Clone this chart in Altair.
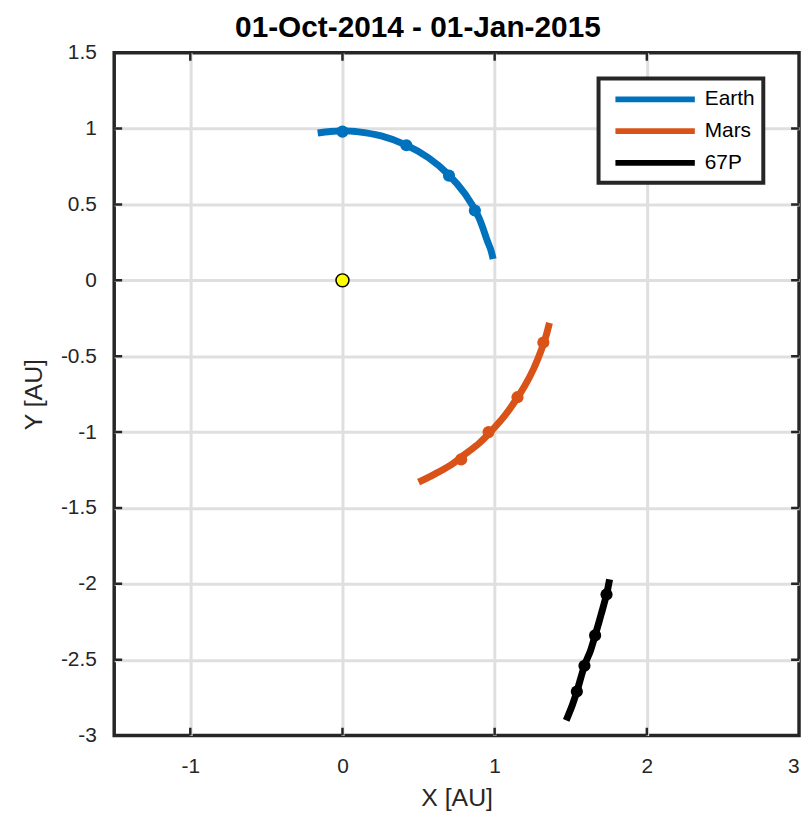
import altair as alt
import pandas as pd

# Earth trajectory (AU)
earth_x = [0.990, 0.975, 0.951, 0.893, 0.807, 0.696, 0.565, 0.416, 0.255, 0.086, 0.000, -0.080, -0.163]
earth_y = [0.140, 0.200, 0.262, 0.420, 0.567, 0.698, 0.808, 0.893, 0.952, 0.981, 0.985, 0.981, 0.971]
earth_mx = [0.87, 0.70, 0.42, 0.00]
earth_my = [0.46, 0.69, 0.89, 0.98]

# Mars trajectory (AU)
mars_x = [0.50, 0.60, 0.705, 0.80, 0.90, 0.985, 1.065, 1.135, 1.199, 1.255, 1.301, 1.335, 1.36]
mars_y = [-1.33, -1.28, -1.221, -1.150, -1.072, -0.985, -0.893, -0.795, -0.693, -0.585, -0.474, -0.375, -0.28]
mars_mx = [0.78, 0.96, 1.15, 1.32]
mars_my = [-1.18, -1.00, -0.77, -0.41]

# 67P trajectory (AU)
comet_x = [1.47, 1.51, 1.54, 1.59, 1.63, 1.66, 1.70, 1.735, 1.755]
comet_y = [-2.90, -2.80, -2.71, -2.54, -2.44, -2.34, -2.20, -2.07, -1.97]
comet_mx = [1.54, 1.59, 1.66, 1.735]
comet_my = [-2.71, -2.54, -2.34, -2.07]

sun_x = [0.0]
sun_y = [0.0]

names = ["Earth", "Mars", "67P"]
colors = ["#0072BD", "#D95319", "#000000"]

x_ticks = [-1, 0, 1, 2, 3]
y_ticks = [-3, -2.5, -2, -1.5, -1, -0.5, 0, 0.5, 1, 1.5]
x_inner = [-1, 0, 1, 2]
y_inner = [-2.5, -2, -1.5, -1, -0.5, 0, 0.5, 1]

rows = []
for name, xs_, ys_ in [("Earth", earth_x, earth_y), ("Mars", mars_x, mars_y), ("67P", comet_x, comet_y)]:
    for i, (a, b) in enumerate(zip(xs_, ys_)):
        rows.append({"body": name, "x": a, "y": b, "i": i})
lines = pd.DataFrame(rows)

mrows = []
for name, xs_, ys_ in [("Earth", earth_mx, earth_my), ("Mars", mars_mx, mars_my), ("67P", comet_mx, comet_my)]:
    for a, b in zip(xs_, ys_):
        mrows.append({"body": name, "x": a, "y": b})
marks = pd.DataFrame(mrows)

sun = pd.DataFrame({"x": sun_x, "y": sun_y})
xt = pd.DataFrame({"x": x_inner})
yt = pd.DataFrame({"y": y_inner})

FONT = "Liberation Sans, Arial, sans-serif"
TXT = "#262626"

xs = alt.Scale(domain=[-1.5, 3], nice=False, zero=False)
ys = alt.Scale(domain=[-3, 1.5], nice=False, zero=False)

edge_x = {"condition": {"test": "datum.value >= 3", "value": 0}, "value": 1}
edge_y = {"condition": {"test": "datum.value <= -3 || datum.value >= 1.5", "value": 0}, "value": 1}

xaxis = alt.Axis(values=x_ticks, title="X [AU]", grid=True, ticks=False, domain=False,
                 labelExpr="'' + datum.value", gridOpacity=edge_x,
                 labelFontSize=21, labelColor=TXT, titleFontSize=25, titleColor=TXT,
                 titleFontWeight="normal", labelPadding=20, titlePadding=9, labelFont=FONT, titleFont=FONT)
yaxis = alt.Axis(values=y_ticks, title="Y [AU]", grid=True, gridOpacity=edge_y,
                 labelExpr="'' + datum.value",
                 ticks=False, domain=False, labelFontSize=21, labelColor=TXT, titleFontSize=25,
                 titleColor=TXT, titleFontWeight="normal", labelPadding=18, titlePadding=14,
                 labelFont=FONT, titleFont=FONT)

color_scale = alt.Scale(domain=names, range=colors)

nb = "\u00a0" * 14

line_layer = alt.Chart(lines).mark_line(strokeWidth=7, strokeCap="butt", interpolate="cardinal").encode(
    x=alt.X("x:Q", scale=xs, axis=xaxis),
    y=alt.Y("y:Q", scale=ys, axis=yaxis),
    color=alt.Color("body:N", scale=color_scale, sort=names,
                    legend=alt.Legend(title=None, orient="none", legendX=488, legendY=26,
                                      symbolType="M-0.4,0H7.6", symbolSize=400, symbolStrokeWidth=6,
                                      labelFontSize=21, labelFont=FONT, labelColor="#000000",
                                      labelExpr="datum.label + '" + nb + "'",
                                      strokeColor=TXT, fillColor="white", padding=8,
                                      rowPadding=7, labelOffset=73)),
    detail="body:N",
    order="i:Q",
)

mark_layer = alt.Chart(marks).mark_circle(size=150, opacity=1).encode(
    x="x:Q",
    y="y:Q",
    fill=alt.Fill("body:N", scale=alt.Scale(domain=names, range=colors), legend=None),
)

sun_layer = alt.Chart(sun).mark_point(filled=True, size=170, fill="#FFFF00", stroke="#000000",
                                      strokeWidth=1.5, opacity=1, shape="circle").encode(
    x="x:Q", y="y:Q"
)

xtick_top = alt.Chart(xt).mark_tick(clip=True, size=16, thickness=2.5, color=TXT, opacity=1).encode(
    x="x:Q", y=alt.value(0))
xtick_bot = alt.Chart(xt).mark_tick(clip=True, size=16, thickness=2.5, color=TXT, opacity=1).encode(
    x="x:Q", y=alt.value(688))
ytick_l = alt.Chart(yt).mark_tick(clip=True, size=16, thickness=2.5, color=TXT, opacity=1).encode(
    y="y:Q", x=alt.value(0))
ytick_r = alt.Chart(yt).mark_tick(clip=True, size=16, thickness=2.5, color=TXT, opacity=1).encode(
    y="y:Q", x=alt.value(690))

chart = alt.layer(line_layer, mark_layer, sun_layer, xtick_top, xtick_bot, ytick_l, ytick_r).properties(
    width=690, height=688,
    title=alt.Title("01-Oct-2014 - 01-Jan-2015", fontSize=30, font=FONT, fontWeight="bold",
                    color="#000000", offset=-1, dx=-39),
    autosize=alt.AutoSizeParams(type="none"),
    padding={"left": 107, "top": 42, "right": 4, "bottom": 82},
).configure_view(
    stroke=TXT, strokeWidth=3.5
).configure_axis(
    gridColor="#DFDFDF", gridWidth=3
).configure_legend(
    strokeWidth=4
)

chart.save("out.html", embed_options={"renderer": "svg", "actions": False})
